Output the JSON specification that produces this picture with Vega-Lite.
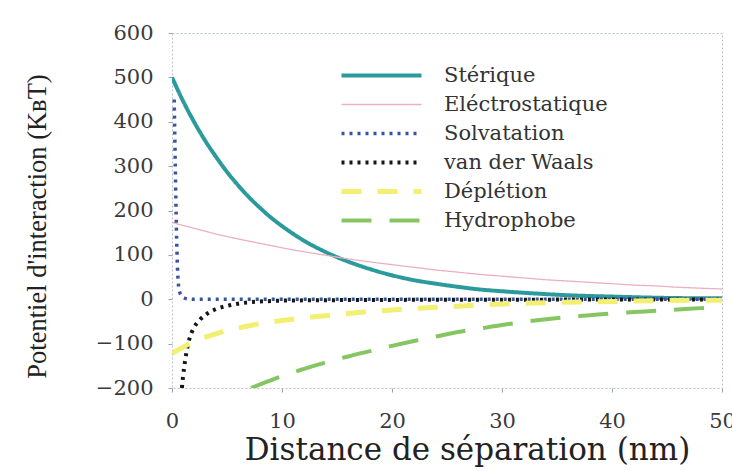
{
  "$schema": "https://vega.github.io/schema/vega-lite/v6.json",
  "autosize": "none",
  "padding": {"left": 172, "top": 33, "right": 10, "bottom": 83},
  "width": 550,
  "height": 355,
  "background": "white",
  "config": {
    "view": {"stroke": "#b9c0d2", "strokeWidth": 1, "strokeDash": [2, 2]},
    "axis": {"grid": false, "domain": false, "labelFont": "DejaVu Serif", "labelFontSize": 21, "labelColor": "#3a3a3a", "titleFont": "DejaVu Serif", "titleColor": "#222", "titleFontWeight": "normal", "tickColor": "#9aa3b8", "tickSize": 4}
  },
  "data": {"values": [
    {"s": "Stérique", "x": 0, "y": 500}, {"s": "Stérique", "x": 1, "y": 447}, {"s": "Stérique", "x": 2, "y": 400}, {"s": "Stérique", "x": 3, "y": 358}, {"s": "Stérique", "x": 4, "y": 321}, {"s": "Stérique", "x": 5, "y": 287}, {"s": "Stérique", "x": 6, "y": 257}, {"s": "Stérique", "x": 7, "y": 230}, {"s": "Stérique", "x": 8, "y": 206}, {"s": "Stérique", "x": 9, "y": 184}, {"s": "Stérique", "x": 10, "y": 165}, {"s": "Stérique", "x": 12, "y": 132}, {"s": "Stérique", "x": 14, "y": 106}, {"s": "Stérique", "x": 16, "y": 85}, {"s": "Stérique", "x": 18, "y": 68}, {"s": "Stérique", "x": 20, "y": 54}, {"s": "Stérique", "x": 22, "y": 43}, {"s": "Stérique", "x": 24, "y": 35}, {"s": "Stérique", "x": 26, "y": 28}, {"s": "Stérique", "x": 28, "y": 22}, {"s": "Stérique", "x": 30, "y": 18}, {"s": "Stérique", "x": 33, "y": 13}, {"s": "Stérique", "x": 36, "y": 9}, {"s": "Stérique", "x": 40, "y": 6}, {"s": "Stérique", "x": 45, "y": 3}, {"s": "Stérique", "x": 50, "y": 2},
    {"s": "Eléctrostatique", "x": 0, "y": 173}, {"s": "Eléctrostatique", "x": 2, "y": 160}, {"s": "Eléctrostatique", "x": 4, "y": 147}, {"s": "Eléctrostatique", "x": 6, "y": 136}, {"s": "Eléctrostatique", "x": 8, "y": 126}, {"s": "Eléctrostatique", "x": 10, "y": 116}, {"s": "Eléctrostatique", "x": 12, "y": 107}, {"s": "Eléctrostatique", "x": 14, "y": 99}, {"s": "Eléctrostatique", "x": 16, "y": 91}, {"s": "Eléctrostatique", "x": 18, "y": 84}, {"s": "Eléctrostatique", "x": 20, "y": 78}, {"s": "Eléctrostatique", "x": 22, "y": 72}, {"s": "Eléctrostatique", "x": 24, "y": 66}, {"s": "Eléctrostatique", "x": 26, "y": 61}, {"s": "Eléctrostatique", "x": 28, "y": 56}, {"s": "Eléctrostatique", "x": 30, "y": 52}, {"s": "Eléctrostatique", "x": 32, "y": 48}, {"s": "Eléctrostatique", "x": 34, "y": 44}, {"s": "Eléctrostatique", "x": 36, "y": 41}, {"s": "Eléctrostatique", "x": 38, "y": 38}, {"s": "Eléctrostatique", "x": 40, "y": 35}, {"s": "Eléctrostatique", "x": 42, "y": 32}, {"s": "Eléctrostatique", "x": 44, "y": 30}, {"s": "Eléctrostatique", "x": 46, "y": 27}, {"s": "Eléctrostatique", "x": 48, "y": 25}, {"s": "Eléctrostatique", "x": 50, "y": 23},
    {"s": "Solvatation", "x": 0.2, "y": 450}, {"s": "Solvatation", "x": 0.3, "y": 300}, {"s": "Solvatation", "x": 0.4, "y": 160}, {"s": "Solvatation", "x": 0.5, "y": 70}, {"s": "Solvatation", "x": 0.6, "y": 30}, {"s": "Solvatation", "x": 0.8, "y": 10}, {"s": "Solvatation", "x": 1.2, "y": 2}, {"s": "Solvatation", "x": 2, "y": 0}, {"s": "Solvatation", "x": 50, "y": 0},
    {"s": "van der Waals", "x": 0.9, "y": -200}, {"s": "van der Waals", "x": 1.0, "y": -175}, {"s": "van der Waals", "x": 1.2, "y": -137}, {"s": "van der Waals", "x": 1.4, "y": -108}, {"s": "van der Waals", "x": 1.6, "y": -88}, {"s": "van der Waals", "x": 2.0, "y": -64}, {"s": "van der Waals", "x": 2.5, "y": -47}, {"s": "van der Waals", "x": 3, "y": -36}, {"s": "van der Waals", "x": 3.5, "y": -28}, {"s": "van der Waals", "x": 4, "y": -22}, {"s": "van der Waals", "x": 5, "y": -15}, {"s": "van der Waals", "x": 6, "y": -10}, {"s": "van der Waals", "x": 7, "y": -7}, {"s": "van der Waals", "x": 8, "y": -5}, {"s": "van der Waals", "x": 9, "y": -4}, {"s": "van der Waals", "x": 10, "y": -3}, {"s": "van der Waals", "x": 12, "y": -2.5}, {"s": "van der Waals", "x": 15, "y": -2}, {"s": "van der Waals", "x": 20, "y": -1.5}, {"s": "van der Waals", "x": 30, "y": -1}, {"s": "van der Waals", "x": 40, "y": -0.7}, {"s": "van der Waals", "x": 50, "y": -0.5},
    {"s": "Déplétion", "x": 0, "y": -122}, {"s": "Déplétion", "x": 1, "y": -108}, {"s": "Déplétion", "x": 2, "y": -96}, {"s": "Déplétion", "x": 3, "y": -86}, {"s": "Déplétion", "x": 4, "y": -78}, {"s": "Déplétion", "x": 5, "y": -71}, {"s": "Déplétion", "x": 6, "y": -65}, {"s": "Déplétion", "x": 8, "y": -55}, {"s": "Déplétion", "x": 10, "y": -48}, {"s": "Déplétion", "x": 12, "y": -42}, {"s": "Déplétion", "x": 14, "y": -37}, {"s": "Déplétion", "x": 16, "y": -32}, {"s": "Déplétion", "x": 18, "y": -28}, {"s": "Déplétion", "x": 20, "y": -24}, {"s": "Déplétion", "x": 22, "y": -21}, {"s": "Déplétion", "x": 25, "y": -17}, {"s": "Déplétion", "x": 28, "y": -13}, {"s": "Déplétion", "x": 31, "y": -10}, {"s": "Déplétion", "x": 35, "y": -7}, {"s": "Déplétion", "x": 40, "y": -5}, {"s": "Déplétion", "x": 45, "y": -3}, {"s": "Déplétion", "x": 50, "y": -2},
    {"s": "Hydrophobe", "x": 7.2, "y": -200}, {"s": "Hydrophobe", "x": 8, "y": -192}, {"s": "Hydrophobe", "x": 10, "y": -173}, {"s": "Hydrophobe", "x": 12, "y": -157}, {"s": "Hydrophobe", "x": 14, "y": -142}, {"s": "Hydrophobe", "x": 16, "y": -129}, {"s": "Hydrophobe", "x": 18, "y": -117}, {"s": "Hydrophobe", "x": 20, "y": -105}, {"s": "Hydrophobe", "x": 22, "y": -94}, {"s": "Hydrophobe", "x": 24, "y": -84}, {"s": "Hydrophobe", "x": 26, "y": -74}, {"s": "Hydrophobe", "x": 28, "y": -66}, {"s": "Hydrophobe", "x": 30, "y": -58}, {"s": "Hydrophobe", "x": 32, "y": -51}, {"s": "Hydrophobe", "x": 34, "y": -45}, {"s": "Hydrophobe", "x": 36, "y": -40}, {"s": "Hydrophobe", "x": 38, "y": -36}, {"s": "Hydrophobe", "x": 40, "y": -32}, {"s": "Hydrophobe", "x": 42, "y": -29}, {"s": "Hydrophobe", "x": 44, "y": -26}, {"s": "Hydrophobe", "x": 46, "y": -23}, {"s": "Hydrophobe", "x": 48, "y": -20}, {"s": "Hydrophobe", "x": 50, "y": -17}
  ]},
  "mark": {"type": "line", "interpolate": "monotone", "clip": true},
  "encoding": {
    "x": {"field": "x", "type": "quantitative", "scale": {"domain": [0, 50], "nice": false},
      "axis": {"values": [0, 10, 20, 30, 40, 50], "title": "Distance de séparation (nm)", "titleFontSize": 31, "titleX": 295, "titleY": 71, "titleBaseline": "alphabetic", "titleAnchor": "middle", "labelPadding": 18, "labelFlush": false}},
    "y": {"field": "y", "type": "quantitative", "scale": {"domain": [-200, 600], "nice": false},
      "axis": {"values": [-200, -100, 0, 100, 200, 300, 400, 500, 600], "title": "Potentiel d'interaction (KʙT)", "titleFont": "Liberation Serif", "titleFontSize": 26.5, "titleAngle": -90, "titleX": -135, "titleY": 193, "titleBaseline": "middle", "titleAlign": "center", "labelPadding": 15}},
    "color": {"field": "s", "type": "nominal", "title": null,
      "scale": {"domain": ["Stérique", "Eléctrostatique", "Solvatation", "van der Waals", "Déplétion", "Hydrophobe"], "range": ["#2a9a9c", "#ebb0c0", "#3a52a3", "#151515", "#f3ef72", "#86c662"]},
      "legend": {"orient": "none", "legendX": 199, "legendY": 32, "padding": 0, "symbolType": "M-16,0H16", "symbolSize": 25, "labelOffset": 52, "labelLimit": 0, "labelFont": "DejaVu Serif", "labelFontSize": 21, "labelColor": "#333", "rowPadding": 7}},
    "strokeDash": {"field": "s", "type": "nominal", "title": null,
      "scale": {"domain": ["Stérique", "Eléctrostatique", "Solvatation", "van der Waals", "Déplétion", "Hydrophobe"], "range": [[1, 0], [1, 0], [3, 5], [3, 5], [20, 16], [30, 18]]}},
    "strokeWidth": {"field": "s", "type": "nominal", "title": null,
      "scale": {"type": "ordinal", "domain": ["Stérique", "Eléctrostatique", "Solvatation", "van der Waals", "Déplétion", "Hydrophobe"], "range": [4, 1.3, 3.5, 4, 5, 4]}}
  }
}
